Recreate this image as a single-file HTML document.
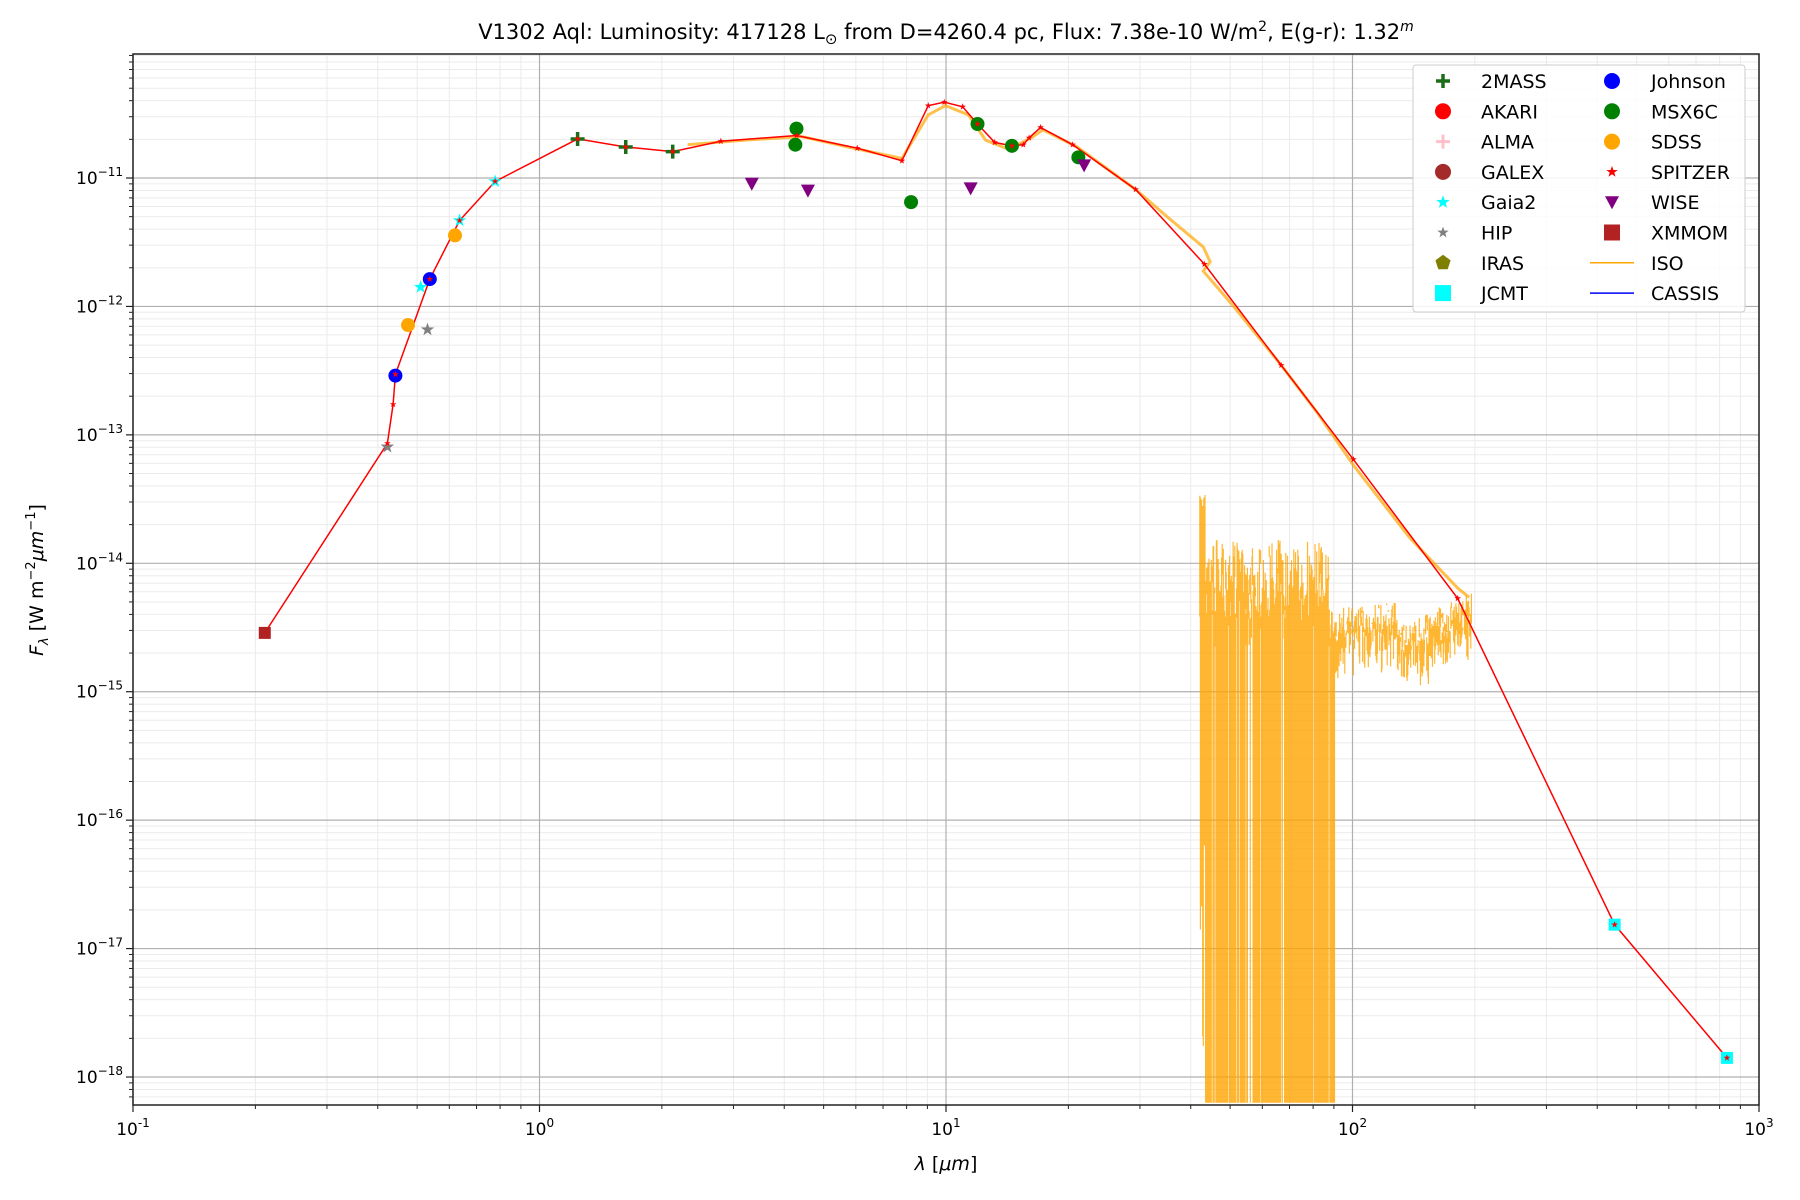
<!DOCTYPE html>
<html><head><meta charset="utf-8"><style>
body{margin:0;background:#fff;}
svg{display:block;font-family:"DejaVu Sans","Liberation Sans",sans-serif;}
</style></head><body>
<svg id="s" width="1800" height="1200" xmlns="http://www.w3.org/2000/svg"></svg>
<script>
const L=133,R=1759,T=54,B=1105;
const X=l=>L+(Math.log10(l)+1)*(R-L)/4;
const Y=f=>178-(Math.log10(f)+11)*128.43;
const dx=p=>133+(p-116)*1.1459, dy=p=>178+(p-155)*1.1487;
let s='';
for(let d=-1;d<3;d++)for(let m=2;m<10;m++){const x=X(m*10**d);s+=`<line x1="${x}" x2="${x}" y1="${T}" y2="${B}" stroke="#ebebeb" stroke-width="1"/>`;s+=`<line x1="${x}" x2="${x}" y1="${B}" y2="${B+4}" stroke="#222"/>`;}
for(let d=-19;d<-9;d++)for(let m=2;m<10;m++){const y=Y(m*10**d);if(y<T||y>B)continue;s+=`<line x1="${L}" x2="${R}" y1="${y}" y2="${y}" stroke="#ebebeb" stroke-width="1"/>`;s+=`<line x1="${L-4}" x2="${L}" y1="${y}" y2="${y}" stroke="#222"/>`;}
for(let d=-1;d<=3;d++){const x=X(10**d);s+=`<line x1="${x}" x2="${x}" y1="${T}" y2="${B}" stroke="#b0b0b0" stroke-width="1.2"/><line x1="${x}" x2="${x}" y1="${B}" y2="${B+7}" stroke="#222" stroke-width="1.2"/><text x="${x}" y="${B+30}" font-size="17" text-anchor="middle">10<tspan dy="-8" font-size="12">${d}</tspan></text>`;}
for(let d=-18;d<=-11;d++){const y=Y(10**d);s+=`<line x1="${L}" x2="${R}" y1="${y}" y2="${y}" stroke="#b0b0b0" stroke-width="1.2"/><line x1="${L-7}" x2="${L}" y1="${y}" y2="${y}" stroke="#222" stroke-width="1.2"/><text x="${L-10}" y="${y+6}" font-size="17" text-anchor="end">10<tspan dy="-8" font-size="12">−${-d}</tspan></text>`;}
let seed=7;const rnd=()=>{seed=(seed*16807)%2147483647;return seed/2147483647;};
let iso='';
for(let p=1047;p<1285;p+=0.5){
 let base= p<1160? 470+rnd()*70 : 530+(1160-p)*0.1+rnd()*30 ;
 if(p>1220) base=545-(p-1220)*0.45+rnd()*30;
 let lo=base+rnd()*35;
 if(p>1049&&p<1165&&rnd()<0.7) lo=960;
 if(p<1052) {base=420+rnd()*40; lo=base+rnd()*500;}
 iso+=`M${dx(p).toFixed(1)},${dy(base).toFixed(1)}V${Math.min(dy(lo),B).toFixed(1)}`;
}
s+=`<path d="${iso}" stroke="orange" stroke-width="1.2" opacity="0.8" fill="none"/>`;
const isoLine=[[600,126],[650,122],[700,119],[740,128],[787,138],[810,100],[825,92],[845,100],[860,122],[880,130],[900,120],[910,113],[940,128],[991,165],[1020,190],[1050,215],[1056,228],[1050,236],[1075,265],[1118,318],[1150,360],[1181,405],[1230,468],[1272,512],[1282,520]];
s+=`<polyline points="${isoLine.map(p=>dx(p[0])+','+dy(p[1])).join(' ')}" fill="none" stroke="orange" stroke-width="3" opacity="0.7"/>`;
const M=[[231,551],[338,386],[343,352],[345,326],[375,243],[401,192],[432,158],[504,121],[546,128],[587,132],[629,123],[695,118],[748,129],[787,140],[810,92],[824,89],[840,93],[853,108],[868,124],[883,127],[893,126],[898,120],[908,111],[936,126],[991,165],[1051,230],[1118,318],[1181,400],[1272,521],[1409,805],[1507,921]];
s+=`<polyline points="${M.map(p=>dx(p[0])+','+dy(p[1])).join(' ')}" fill="none" stroke="red" stroke-width="1.5"/>`;
const circ=(p,c,r)=>`<circle cx="${dx(p[0])}" cy="${dy(p[1])}" r="${r}" fill="${c}"/>`;
const sq=(p,c,h)=>`<rect x="${dx(p[0])-h}" y="${dy(p[1])-h}" width="${2*h}" height="${2*h}" fill="${c}"/>`;
const star=(x,y,r,c)=>{let pts=[];for(let i=0;i<10;i++){const a=-Math.PI/2+i*Math.PI/5,rr=i%2?r*0.4:r;pts.push((x+rr*Math.cos(a)).toFixed(1)+','+(y+rr*Math.sin(a)).toFixed(1));}return `<polygon points="${pts.join(' ')}" fill="${c}"/>`;};
const tri=(x,y,c)=>`<polygon points="${x-7},${y-6} ${x+7},${y-6} ${x},${y+7}" fill="${c}"/>`;
const plus=(x,y,c)=>`<path d="M${x-7},${y}H${x+7}M${x},${y-7}V${y+7}" stroke="${c}" stroke-width="3.5"/>`;
s+=sq([231,551],'#b22222',6);
[[1409,805],[1507,921]].forEach(p=>s+=sq(p,'cyan',6));
[[367,250],[401,192],[432,158]].forEach(p=>s+=star(dx(p[0]),dy(p[1]),7,'cyan'));
[[338,389],[373,287]].forEach(p=>s+=star(dx(p[0]),dy(p[1]),7,'gray'));
[[345,327],[375,243]].forEach(p=>s+=circ(p,'blue',7));
[[356,283],[397,205]].forEach(p=>s+=circ(p,'orange',7));
[[504,121],[546,128],[587,132]].forEach(p=>s+=plus(dx(p[0]),dy(p[1]),'#1a6e1a'));
[[695,112],[694,126],[795,176],[853,108],[883,127],[941,137]].forEach(p=>s+=circ(p,'green',7));
[[656,160],[705,166],[847,164],[946,144]].forEach(p=>s+=tri(dx(p[0]),dy(p[1]),'purple'));
M.slice(1).forEach(p=>s+=star(dx(p[0]),dy(p[1]),3.5,'red'));
const lx=1413,ly=65;
s+=`<rect x="${lx}" y="${ly}" width="332" height="247" fill="#fff" fill-opacity="0.85" stroke="#ccc" rx="3"/>`;
const items=[['2MASS','plus','#1a6e1a'],['AKARI','c','red'],['ALMA','plusl','pink'],['GALEX','c','brown'],['Gaia2','star','cyan'],['HIP','stars','gray'],['IRAS','pent','olive'],['JCMT','sq','cyan'],
['Johnson','c','blue'],['MSX6C','c','green'],['SDSS','c','orange'],['SPITZER','stars','red'],['WISE','tri','purple'],['XMMOM','sq','#b22222'],['ISO','line','orange'],['CASSIS','line','blue']];
items.forEach((it,i)=>{const col=i>7?1:0,row=i%8;const mx=col?1612:1443,ty=ly+16+row*30.3,tx=col?1651:1481;
 let m='';const[n,t,c]=it;
 if(t=='plus')m=plus(mx,ty,c);else if(t=='plusl')m=`<path d="M${mx-7},${ty}H${mx+7}M${mx},${ty-7}V${ty+7}" stroke="${c}" stroke-width="3"/>`;
 else if(t=='c')m=`<circle cx="${mx}" cy="${ty}" r="8" fill="${c}"/>`;
 else if(t=='star')m=star(mx,ty,7,c);else if(t=='stars')m=star(mx,ty,6,c);
 else if(t=='sq')m=`<rect x="${mx-8}" y="${ty-8}" width="16" height="16" fill="${c}"/>`;
 else if(t=='tri')m=tri(mx,ty,c);
 else if(t=='pent'){let p=[];for(let k=0;k<5;k++){const a=-Math.PI/2+k*2*Math.PI/5;p.push((mx+8*Math.cos(a))+','+(ty+8*Math.sin(a)));}m=`<polygon points="${p.join(' ')}" fill="${c}"/>`;}
 else m=`<line x1="${mx-22}" x2="${mx+22}" y1="${ty}" y2="${ty}" stroke="${c}" stroke-width="1.5"/>`;
 s+=m+`<text x="${tx}" y="${ty+7}" font-size="19">${n}</text>`;});
s+=`<rect x="${L}" y="${T}" width="${R-L}" height="${B-T}" fill="none" stroke="#222" stroke-width="1.5"/>`;
s+=`<text x="946" y="39" font-size="21" text-anchor="middle">V1302 Aql:  Luminosity: 417128 L<tspan font-size="15" dy="5">⊙</tspan><tspan dy="-5"> from D=4260.4 pc, Flux: 7.38e-10 W/m</tspan><tspan dy="-8" font-size="14">2</tspan><tspan dy="8">, E(g-r): 1.32</tspan><tspan dy="-8" font-size="14" font-style="italic">m</tspan></text>`;
s+=`<text x="946" y="1170" font-size="19" text-anchor="middle"><tspan font-style="italic">λ</tspan> [<tspan font-style="italic">μm</tspan>]</text>`;
s+=`<text transform="translate(43,580) rotate(-90)" font-size="19" text-anchor="middle"><tspan font-style="italic">F</tspan><tspan font-size="13" dy="5" font-style="italic">λ</tspan><tspan dy="-5"> [W m</tspan><tspan dy="-8" font-size="13">−2</tspan><tspan dy="8" font-style="italic">μm</tspan><tspan dy="-8" font-size="13">−1</tspan><tspan dy="8">]</tspan></text>`;
document.getElementById('s').innerHTML=s;
</script>
</body></html>
